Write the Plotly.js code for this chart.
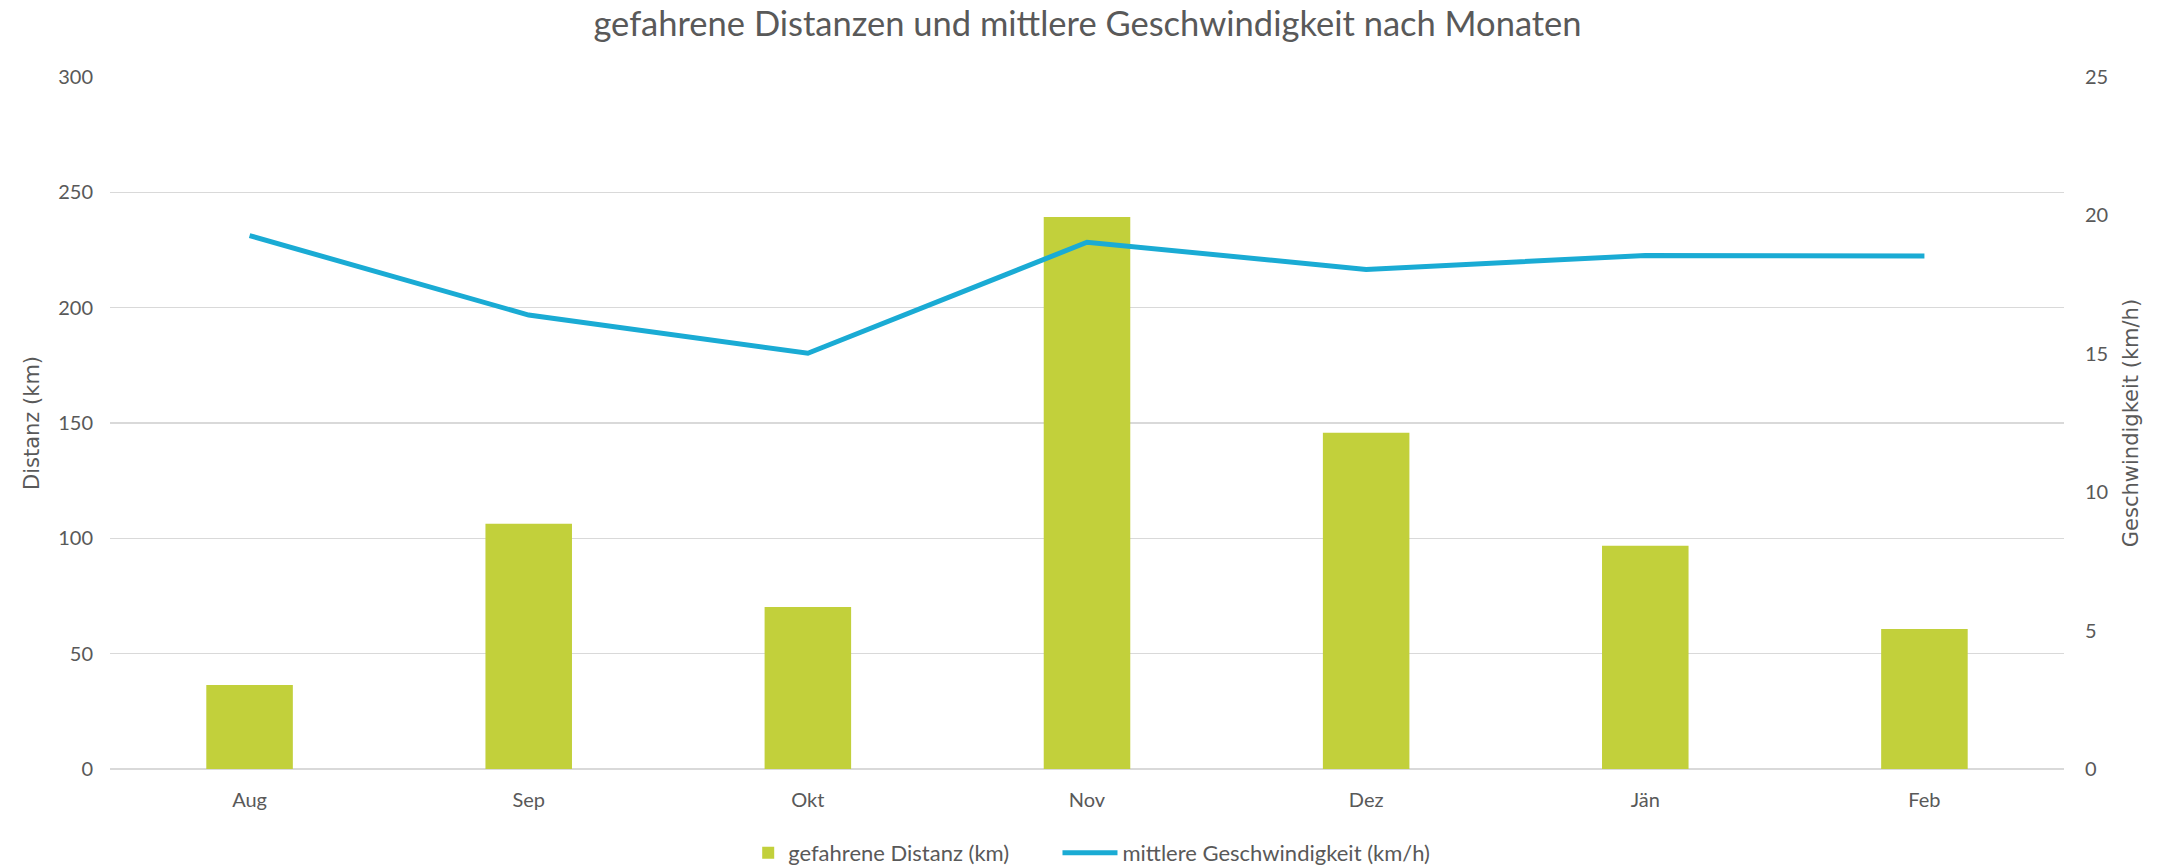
<!DOCTYPE html>
<html>
<head>
<meta charset="utf-8">
<script src="https://cdn.plot.ly/plotly-3.0.1.min.js"></script>
<style>html,body{margin:0;padding:0;background:#fff;}#chart{width:2175px;height:868px;}</style>
</head>
<body>
<div id="chart"></div>
<script>
const months = ["Aug", "Sep", "Okt", "Nov", "Dez", "Jän", "Feb"];
const distanceKm = [36.4, 106.3, 70.2, 239.3, 145.8, 96.8, 60.7];
const speedKmh = [19.27, 16.40, 15.02, 19.03, 18.05, 18.55, 18.53];
const distTicks = [0, 50, 100, 150, 200, 250, 300];
const speedTicks = [0, 5, 10, 15, 20, 25];

const FONT = "Lato, 'Open Sans', sans-serif";
const AXFONT = "'DejaVu Sans', 'Open Sans', sans-serif";
const TXT = "#595959";

const traces = [
  {
    type: "bar",
    name: "gefahrene Distanz (km)",
    x: months,
    y: distanceKm,
    marker: {color: "#c2d03b"},
    yaxis: "y",
    legend: "legend"
  },
  {
    type: "scatter",
    mode: "lines",
    name: "mittlere Geschwindigkeit (km/h)",
    x: months,
    y: speedKmh,
    line: {color: "#1aabd4", width: 5},
    yaxis: "y2",
    legend: "legend2"
  }
];

const layout = {
  width: 2175,
  height: 868,
  paper_bgcolor: "#ffffff",
  plot_bgcolor: "#ffffff",
  margin: {l: 110, r: 111, t: 77, b: 99},
  font: {family: FONT, color: TXT, size: 20},
  title: {
    text: "gefahrene Distanzen und mittlere Geschwindigkeit nach Monaten",
    font: {family: FONT, size: 34.5, color: TXT},
    x: 0.5, xanchor: "center",
    y: 0.972, yanchor: "middle"
  },
  bargap: 0.69,
  showlegend: true,
  legend: {
    orientation: "h",
    xref: "container", yref: "container",
    x: 0.344, xanchor: "left",
    y: 0.0173, yanchor: "middle",
    font: {family: FONT, size: 22, color: TXT},
    itemwidth: 30
  },
  legend2: {
    orientation: "h",
    xref: "container", yref: "container",
    x: 0.4862, xanchor: "left",
    y: 0.0173, yanchor: "middle",
    font: {family: FONT, size: 22, color: TXT},
    itemwidth: 55
  },
  xaxis: {
    type: "category",
    tickvals: months,
    ticktext: months,
    showgrid: false,
    showline: false,
    zeroline: false,
    ticks: "",
    ticklabelstandoff: 17,
    tickfont: {family: FONT, size: 20, color: TXT}
  },
  yaxis: {
    range: [0, 300],
    tickvals: distTicks,
    showgrid: true,
    gridcolor: "#d9d9d9",
    gridwidth: 1.5,
    zeroline: true,
    zerolinecolor: "#d9d9d9",
    zerolinewidth: 1.5,
    showline: false,
    ticks: "",
    ticklabelstandoff: 16,
    tickfont: {family: FONT, size: 20, color: TXT},
    title: {text: "Distanz (km)", font: {family: AXFONT, size: 21, color: TXT}, standoff: 12}
  },
  yaxis2: {
    range: [0, 25],
    tickvals: speedTicks,
    overlaying: "y",
    side: "right",
    showgrid: false,
    zeroline: false,
    showline: false,
    ticks: "",
    ticklabelstandoff: 20,
    tickfont: {family: FONT, size: 20, color: TXT},
    title: {text: "Geschwindigkeit (km/h)", font: {family: AXFONT, size: 21, color: TXT}, standoff: 16}
  }
};

Plotly.newPlot("chart", traces, layout, {displayModeBar: false, staticPlot: true});
</script>
</body>
</html>
